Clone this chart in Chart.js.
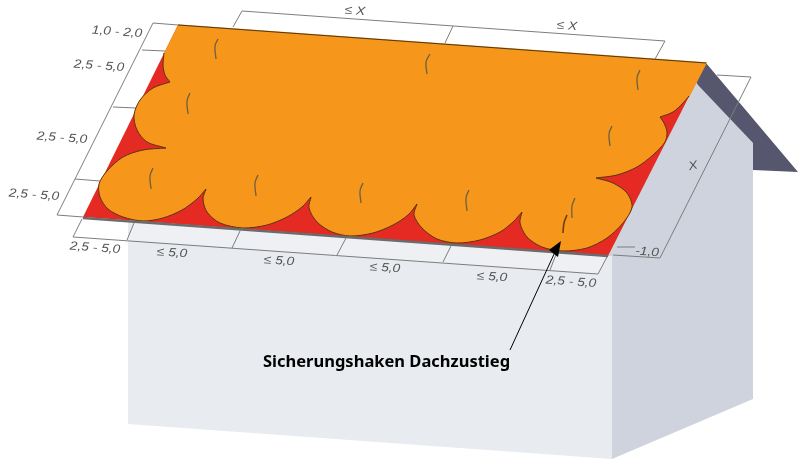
<!DOCTYPE html>
<html>
<head>
<meta charset="utf-8">
<style>
  html, body { margin: 0; padding: 0; background: #fff; }
  canvas { display: block; filter: blur(0.4px); }
</style>
<script src="https://cdn.jsdelivr.net/npm/chart.js@4"></script>
</head>
<body>
<canvas id="dach" width="798" height="459"></canvas>
<script>
// house
const frontWall = [[128,221],[612,256],[612,459],[128,424]];
const eaveStrip = [[134,223],[608,256],[598,274],[127,240]];
const sideWall = [[694,80],[753,143],[753,399],[612,459],[612,256],[607,256]];
const gableBand = [[706,63],[798,172],[753,170],[753,143],[698,85],[696,82]];

// roof
const roofRed = [[178,25],[706,63],[608,256],[83,217]];
const roofOrange = [[178,25],[706,63],[689,96],[660,117],[596,178],[522,212],[417,204],[311,197],[206,189],[166,148],[170,82],[164,53]];
const roofLobes = [
  [[164,53],[163,65],[165,75],[170,82]],
  [[170,82],[153,88],[140,100],[134,115],[137,130],[147,142],[166,148]],
  [[166,148],[143,150],[123,157],[107,171],[99,184],[100,197],[108,209],[123,217],[143,221],[163,218],[182,210],[197,199],[206,189]],
  [[206,189],[203,199],[207,212],[220,223],[243,228],[267,225],[287,217],[302,207],[311,197]],
  [[311,197],[309,208],[317,222],[332,232],[350,236],[373,233],[393,225],[408,215],[417,204]],
  [[417,204],[414,215],[422,228],[437,239],[457,243],[480,240],[500,232],[513,222],[522,212]],
  [[522,212],[520,223],[527,237],[542,247],[563,251],[587,248],[607,238],[623,223],[632,207],[627,193],[613,183],[596,178]],
  [[596,178],[617,175],[637,167],[653,155],[665,142],[667,132],[664,123],[660,117]],
  [[660,117],[673,112],[683,103],[689,96]]
];
const eaveLine = [[83,218],[608,256]];
const ridgeLine = [[178,25],[706,63]];

// dimension frames
const frameLines = [
  [[233,27],[242,11],[665,41],[655,59]],
  [[453,26],[445,43]],
  [[178,25],[153,23],[57,215],[83,217]],
  [[142,50],[165,51]],
  [[113,107],[136,108]],
  [[75,179],[100,181]],
  [[82,219],[73,237],[598,274],[608,255]],
  [[134,223],[127,240]],
  [[240,231],[232,248]],
  [[346,238],[337,255]],
  [[451,246],[443,262]],
  [[557,252],[550,270]],
  [[717,75],[751,77],[660,258],[613,255]],
  [[617,247],[635,247]]
];

// safety hooks
const hooks = [
  [[218,39],[215,46],[216,59]],
  [[430,54],[426,62],[427,74]],
  [[640,70],[637,78],[638,90]],
  [[190,93],[187,101],[188,114]],
  [[612,126],[609,134],[610,146]],
  [[153,168],[150,176],[151,189]],
  [[258,175],[255,183],[256,196]],
  [[363,183],[360,191],[361,203]],
  [[469,190],[466,198],[467,211]],
  [[575,198],[572,206],[572,218]]
];
const frontHook = [[567,215],[564,223],[563,233]];

// arrow
const arrowShaft = [[510,350],[555,252]];
const arrowHead = [[561,241],[549,250],[558,257]];

// labels
const labelTexts = ['1,0 - 2,0','2,5 - 5,0','2,5 - 5,0','2,5 - 5,0','2,5 - 5,0','≤ 5,0','≤ 5,0','≤ 5,0','≤ 5,0','2,5 - 5,0','-1,0','≤ X','≤ X','X'];
const labelX = [117,99,62,34,95,172,279,385,492,571,647,355,567,693];
const labelY = [32,66,138,195,248,253,261,268,277,282,252,11,26,166];
const labelAngle = [4,4,4,4,4,4,4,4,4,4,4,4,4,-12];
const calloutText = 'Sicherungshaken Dachzustieg';
const calloutX = 263;
const calloutY = 362;

function toPoints(list) {
  return list.map(p => ({ x: p[0], y: p[1] }));
}

function shape(list, color) {
  return { data: toPoints(list), showLine: true, fill: 'shape', backgroundColor: color, borderWidth: 0, borderColor: 'transparent', pointRadius: 0, tension: 0 };
}

function line(list, color, width) {
  return { data: toPoints(list), showLine: true, fill: false, borderColor: color, borderWidth: width, pointRadius: 0, tension: 0 };
}

// listed bottom layer first, reversed below since Chart.js paints the first dataset last
const layers = [
  shape(frontWall, '#e8ebef'),
  shape(eaveStrip, '#eef0f4'),
  shape(sideWall, '#cfd3dd'),
  shape(gableBand, '#56566e'),
  ...frameLines.map(l => line(l, '#7d7d7d', 1)),
  shape(roofRed, '#e52a24'),
  ...roofLobes.map(l => ({ ...shape(l, '#f6971c'), tension: 0.3 })),
  { ...shape(roofOrange, '#f6971c'), borderColor: '#f6971c', borderWidth: 1.5 },
  ...roofLobes.map(l => ({ ...line(l, '#5b3410', 1), tension: 0.3 })),
  line(eaveLine, '#6b6b6b', 2.5),
  line(ridgeLine, '#4a3a20', 1),
  ...hooks.map(l => ({ ...line(l, '#6b6140', 1.3), tension: 0.4 })),
  { ...line(frontHook, '#6e3f10', 1.6), tension: 0.4 },
  line(arrowShaft, '#000', 1),
  shape(arrowHead, '#000')
];

const textPlugin = {
  id: 'dachLabels',
  afterDatasetsDraw(chart) {
    const { ctx, scales } = chart;
    ctx.save();
    ctx.fillStyle = '#555';
    ctx.font = 'italic 12px "Liberation Sans"';
    ctx.textAlign = 'center';
    ctx.textBaseline = 'middle';
    labelTexts.forEach((t, i) => {
      ctx.save();
      ctx.translate(scales.x.getPixelForValue(labelX[i]), scales.y.getPixelForValue(labelY[i]));
      ctx.rotate(labelAngle[i] * Math.PI / 180);
      ctx.scale(1.15, 1);
      ctx.fillText(t, 0, 0);
      ctx.restore();
    });
    ctx.fillStyle = '#000';
    ctx.font = 'bold 16.5px "Noto Sans"';
    ctx.textAlign = 'left';
    ctx.fillText(calloutText, scales.x.getPixelForValue(calloutX), scales.y.getPixelForValue(calloutY));
    ctx.restore();
  }
};

new Chart(document.getElementById('dach'), {
  type: 'scatter',
  data: { datasets: layers.reverse() },
  options: {
    responsive: false,
    animation: false,
    layout: { padding: 0 },
    plugins: { legend: { display: false }, tooltip: { enabled: false } },
    scales: {
      x: { type: 'linear', min: 0, max: 798, display: false },
      y: { type: 'linear', min: 0, max: 459, reverse: true, display: false }
    }
  },
  plugins: [textPlugin]
});
</script>
</body>
</html>
